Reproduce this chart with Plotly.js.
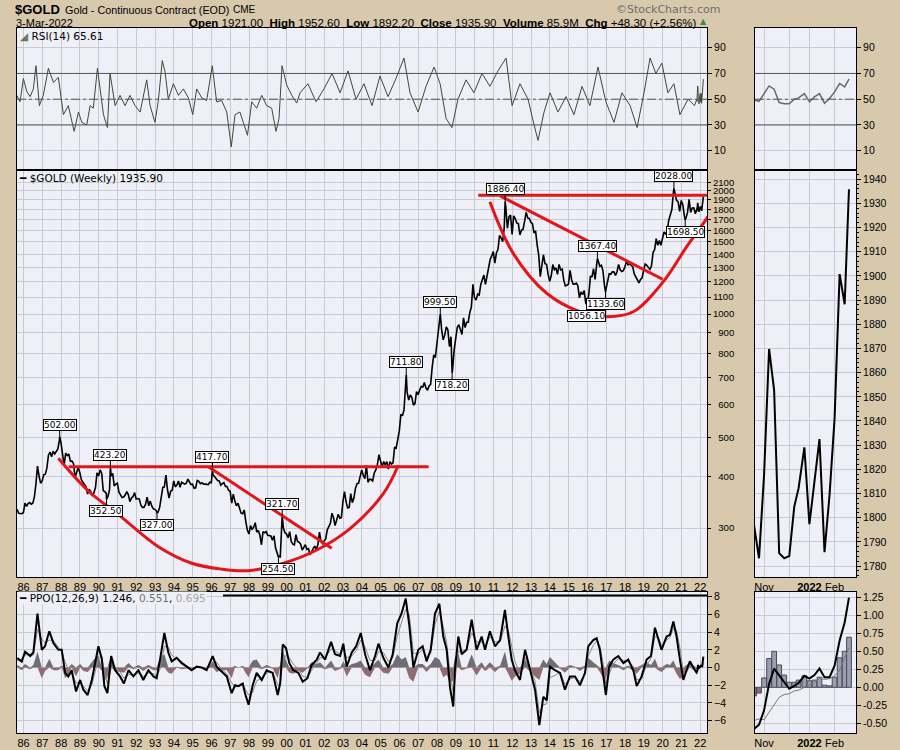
<!DOCTYPE html>
<html><head><meta charset="utf-8">
<script src="https://cdn.plot.ly/plotly-3.0.1.min.js"></script>
<style>html,body{margin:0;padding:0;background:#d8c8ac;}#chart{width:900px;height:750px;}</style>
</head><body><div id="chart"></div>
<script>
// ---------- DATA ----------
// Month-end closes, starting July 1985, ending Sep 2021
const priceStartYear = 1985, priceStartMonth = 7;
const priceMonthly = [
 327, 333, 326, 325, 325, 327,
 345, 339, 344, 346, 343, 345, 357, 384, 425, 402, 386, 391,
 405, 406, 420, 452, 460, 448, 462, 455, 460, 468, 492, 484,
 458, 427, 457, 451, 455, 437, 437, 431, 398, 412, 422, 410,
 394, 388, 383, 378, 363, 373, 368, 359, 366, 376, 409, 402,
 416, 408, 370, 368, 364, 358, 372, 402, 408, 380, 384, 386,
 367, 362, 356, 357, 361, 368, 362, 348, 355, 358, 366, 353,
 354, 353, 341, 337, 337, 343, 357, 340, 349, 339, 334, 333,
 330, 328, 337, 355, 377, 378, 404, 372, 355, 369, 371, 391,
 378, 382, 391, 377, 388, 386, 384, 386, 395, 389, 383, 384,
 375, 376, 392, 390, 385, 387, 384, 384, 384, 383, 388, 387,
 405, 401, 396, 392, 391, 382, 385, 387, 379, 379, 371, 369,
 345, 363, 349, 340, 345, 334, 326, 325, 332, 311, 296, 290,
 304, 298, 301, 309, 293, 296, 288, 273, 294, 292, 294, 288,
 288, 287, 280, 287, 268, 262, 256, 255, 300, 300, 292, 290,
 284, 294, 278, 274, 273, 289, 278, 277, 274, 265, 270, 273,
 266, 267, 258, 264, 267, 271, 266, 273, 293, 279, 275, 279,
 282, 297, 303, 308, 326, 318, 304, 312, 324, 317, 318, 348,
 368, 348, 336, 337, 364, 346, 355, 375, 385, 386, 398, 416,
 403, 396, 427, 388, 395, 394, 391, 409, 416, 429, 453, 438,
 423, 436, 428, 436, 418, 436, 430, 433, 473, 470, 495, 518,
 569, 564, 583, 654, 644, 616, 634, 626, 599, 604, 646, 635,
 652, 665, 663, 680, 660, 651, 667, 673, 743, 795, 783, 838,
 923, 975, 917, 865, 888, 930, 915, 833, 880, 730, 816, 884,
 927, 942, 917, 891, 979, 927, 955, 955, 1008, 1040, 1182, 1096,
 1082, 1118, 1113, 1180, 1212, 1245, 1181, 1248, 1307, 1359, 1387, 1421,
 1332, 1410, 1439, 1556, 1536, 1502, 1628, 1826, 1620, 1725, 1746, 1566,
 1738, 1711, 1669, 1664, 1560, 1604, 1610, 1687, 1772, 1717, 1712, 1676,
 1663, 1578, 1596, 1476, 1393, 1234, 1312, 1396, 1327, 1323, 1250, 1202,
 1240, 1321, 1284, 1296, 1250, 1322, 1282, 1287, 1210, 1171, 1175, 1184,
 1279, 1213, 1183, 1183, 1190, 1172, 1095, 1133, 1115, 1142, 1065, 1060,
 1118, 1234, 1234, 1290, 1215, 1321, 1350, 1309, 1316, 1277, 1173, 1152,
 1211, 1254, 1251, 1268, 1268, 1242, 1269, 1322, 1283, 1270, 1277, 1303,
 1345, 1318, 1325, 1316, 1305, 1253, 1233, 1206, 1192, 1215, 1226, 1282,
 1325, 1316, 1298, 1285, 1311, 1413, 1437, 1529, 1472, 1513, 1473, 1523,
 1587, 1566, 1596, 1694, 1751, 1800, 1986, 1978, 1896, 1880, 1781, 1895,
 1850, 1734, 1716, 1769, 1906, 1771, 1817, 1818, 1757
];

// Labelled swing points
const swingYears  = [1987.92, 1990.41, 1990.62, 1993.10, 1996.05, 1999.56, 1999.76, 2006.36, 2008.17, 2008.80, 2011.62, 2015.96, 2016.53, 2016.96, 2020.60, 2021.20];
const swingValues = [502.00, 352.50, 423.20, 327.00, 417.70, 254.50, 321.70, 711.80, 999.50, 718.20, 1886.40, 1056.10, 1367.40, 1133.60, 2028.00, 1698.50];
const swingLabels = ['502.00','352.50','423.20','327.00','417.70','254.50','321.70','711.80','999.50','718.20','1886.40','1056.10','1367.40','1133.60','2028.00','1698.50'];
const swingSide   = ['up','down','up','down','up','down','up','up','up','down','up','down','up','down','up','down'];

// Weekly detail (right-hand panels)
const weekDates = ['2021-10-22','2021-10-29','2021-11-05','2021-11-12','2021-11-19','2021-11-26','2021-12-03','2021-12-10','2021-12-17','2021-12-23','2021-12-31','2022-01-07','2022-01-14','2022-01-21','2022-01-28','2022-02-04','2022-02-11','2022-02-18','2022-02-25','2022-03-03'];
const weekClose = [1797, 1783.2, 1817.7, 1869.8, 1852.8, 1785.3, 1783.2, 1784.1, 1804.6, 1812.2, 1829.1, 1797.3, 1814.9, 1832.5, 1785.7, 1809.4, 1841.1, 1900.8, 1888.3, 1935.9];
const weekRSI   = [49.5, 48.4, 54.4, 60.3, 57.8, 47.4, 46.4, 46.4, 50.0, 51.0, 54.4, 47.9, 51.8, 54.4, 46.9, 50.5, 55.7, 62.2, 59.6, 65.61];
const weekPPO   = [-0.58, -0.52, -0.32, 0.05, 0.26, 0.17, 0.07, -0.02, 0.02, 0.06, 0.16, 0.12, 0.17, 0.26, 0.14, 0.14, 0.30, 0.65, 0.90, 1.246];
const weekHist  = [-0.12, -0.08, 0.13, 0.40, 0.50, 0.31, 0.17, 0.07, 0.07, 0.10, 0.16, 0.09, 0.10, 0.14, 0.03, 0.02, 0.14, 0.41, 0.50, 0.695];

// RSI(14) weekly
const rsiYears = [1985.64,1985.81,1985.99,1986.17,1986.35,1986.52,1986.66,1986.84,1987.05,1987.32,1987.59,1987.85,1988.12,1988.38,1988.69,1988.92,1989.10,1989.36,1989.54,1989.71,1989.93,1990.07,1990.25,1990.46,1990.60,1990.87,1991.13,1991.40,1991.66,1991.93,1992.20,1992.55,1992.73,1992.99,1993.17,1993.38,1993.53,1993.70,1993.97,1994.24,1994.50,1994.77,1995.00,1995.21,1995.48,1995.74,1996.04,1996.27,1996.54,1996.81,1997.05,1997.25,1997.51,1997.69,1997.91,1998.14,1998.40,1998.67,1998.93,1999.20,1999.43,1999.59,1999.75,2000.00,2000.27,2000.53,
 2000.71,2001.13,2001.56,2001.98,2002.41,2002.84,2003.26,2003.69,2004.11,2004.54,2004.96,2005.39,2005.81,2006.24,2006.56,2006.99,2007.41,2007.84,2008.16,2008.48,2008.79,2009.11,2009.54,2009.96,2010.39,2010.81,2011.24,2011.67,2011.99,2012.41,2012.84,2013.16,2013.37,2013.69,2014.01,2014.43,2014.86,2015.28,2015.71,2016.13,2016.56,2016.98,2017.41,2017.84,2018.27,2018.64,2019.01,2019.33,2019.64,2019.96,2020.28,2020.60,2020.92,2021.35,2021.70];
const rsiValues = [53,48,66,56,52,58,76,45,53,74,63,67,38,45,25,40,32,30,45,43,74,58,38,28,70,45,53,45,53,45,40,65,45,32,49,80,71,50,62,53,58,51,38,58,51,49,76,48,49,40,13,38,40,32,22,48,43,53,45,43,25,35,76,61,53,47,
 55,62,48,58,70,55,72,50,62,45,68,52,66,82,55,40,60,75,62,35,28,50,65,55,70,60,72,82,45,62,50,30,18,40,55,40,52,38,60,45,75,48,32,55,45,28,55,82,70,78,55,62,38,50,45];

// PPO(12,26,9) line and histogram
const ppoYears = [1985.66,1985.90,1986.08,1986.35,1986.52,1986.74,1986.97,1987.14,1987.37,1987.59,1987.85,1988.03,1988.21,1988.38,1988.56,1988.79,1989.01,1989.18,1989.41,1989.63,1989.77,1989.98,1990.16,1990.30,1990.46,1990.66,1990.87,1991.13,1991.34,1991.58,1991.84,1992.11,1992.37,1992.64,1992.91,1993.08,1993.26,1993.49,1993.70,1993.88,1994.15,1994.41,1994.68,1994.94,1995.21,1995.48,1995.74,1996.06,1996.27,1996.54,1996.81,1997.07,1997.25,1997.43,1997.66,1997.78,1997.97,1998.19,1998.40,1998.67,1998.93,1999.25,1999.52,1999.65,1999.79,1999.96,2000.14,2000.35,2000.62,2000.85,2001.10,2001.33,2001.60,2001.77,2002.04,2002.36,2002.57,2002.84,2003.01,2003.19,2003.46,2003.69,2003.94,2004.17,2004.43,2004.70,2004.88,2005.14,2005.41,2005.64,2005.88,2006.11,2006.33,2006.52,2006.74,2007.00,2007.23,2007.44,2007.66,2007.89,2008.12,2008.33,2008.51,2008.69,2008.86,2008.95,2009.13,2009.31,2009.57,2009.84,2010.10,2010.37,2010.55,2010.81,2011.08,2011.35,2011.61,2011.79,2011.97,2012.14,2012.41,2012.68,2012.94,2013.21,2013.44,2013.65,2013.83,2014.00,2014.27,2014.54,2014.80,2015.07,2015.34,2015.60,2015.87,2016.04,2016.31,2016.49,2016.66,2016.88,2016.98,2017.16,2017.37,2017.64,2017.91,2018.17,2018.44,2018.62,2018.88,2019.15,2019.38,2019.59,2019.77,2019.94,2020.21,2020.39,2020.57,2020.74,2020.92,2021.10,2021.27,2021.45,2021.72];
const ppoValues = [1.06,0.68,1.8,1.3,1.7,6.1,2.0,2.4,4.1,2.75,2.0,2.0,-0.6,-1.0,-0.3,-2.7,-1.4,-2.5,-3.1,-1.4,0.1,2.4,1.0,-2.1,-2.9,1.3,-0.3,-1.0,-1.8,-0.3,-1.0,-0.3,-1.4,-0.3,-1.0,-1.2,0.9,3.9,1.7,0.7,1.1,0.5,0.1,-0.3,0.1,0.0,-0.3,1.3,0.1,-0.5,-1.0,-2.9,-2.0,-2.1,-1.8,-2.9,-4.2,-2.0,-0.6,-1.4,-0.3,-0.6,-3.1,-1.8,2.6,2.2,0.5,-0.3,-0.6,-1.6,-1.2,0.3,0.9,1.7,0.9,2.9,1.5,1.3,2.7,0.1,1.7,2.4,3.9,1.5,-0.3,1.3,2.7,1.1,0.0,1.5,5.0,6.1,7.8,4.8,0.0,2.0,2.4,0.7,2.0,6.1,7.2,3.5,2.0,-2.3,-4.4,-0.3,3.5,1.5,2.0,5.4,2.0,3.5,2.0,4.1,2.4,3.1,6.5,3.5,0.9,-0.3,-1.4,2.0,-0.3,-2.5,-6.5,-3.3,-3.7,0.1,-0.3,-0.6,-2.5,-1.0,-1.0,-2.0,-0.6,2.4,3.1,3.3,2.0,-1.4,-3.1,0.1,0.9,1.3,0.5,0.9,-0.3,-2.1,-1.0,0.9,1.3,4.5,3.1,2.0,3.5,3.7,5.2,3.5,0.9,-1.4,-0.3,0.7,-0.3];
const ppoHist   = [0.3,-0.3,0.4,-0.2,0.3,1.8,-1.2,-0.4,1.0,-0.3,-0.3,0.2,-1.2,-0.8,0.4,-1.0,0.4,-0.4,-0.5,0.6,1.0,1.4,-0.3,-1.5,-1.1,1.4,-0.4,-0.5,-0.6,0.5,-0.2,0.3,-0.4,0.3,-0.3,-0.3,1.1,1.5,-0.6,-0.7,0.1,-0.2,-0.1,-0.2,0.1,0.0,-0.1,0.7,-0.5,-0.3,-0.3,-1.2,0.2,0.0,0.2,-0.5,-1.1,0.8,0.9,-0.2,0.3,-0.1,-1.2,0.2,2.0,0.8,-0.6,-0.7,-0.4,-0.6,-0.1,0.6,0.4,0.6,-0.2,0.8,-0.4,-0.2,0.7,-1.0,0.4,0.5,0.8,-0.8,-1.1,0.5,0.9,-0.6,-0.7,0.4,1.5,0.9,1.2,-1.2,-1.6,0.4,0.4,-0.5,0.4,1.2,0.9,-1.1,-0.8,-1.7,-1.5,1.2,1.6,-0.3,-0.1,1.5,-0.9,0.6,-0.4,0.6,-0.5,0.2,1.8,-0.7,-1.5,-1.0,-0.7,0.9,-0.4,-1.0,-1.4,0.9,0.4,1.2,0.6,-0.1,-0.6,0.3,0.1,-0.4,0.2,1.1,0.6,0.3,-0.5,-1.3,-1.2,0.8,0.5,0.3,-0.3,0.2,-0.4,-0.7,0.3,0.6,0.3,1.0,-0.3,-0.5,0.4,0.3,0.8,-0.7,-1.3,-1.0,0.3,0.5,-0.4];

// Hand-drawn red pattern lines
const cupLeftRimYears = [1988.40, 2007.55], cupLeftRimVals = [423.2, 423.2];
const cupLeftArcYears = [1987.85, 1989.43, 1991.03, 1993.17, 1994.95, 1996.54, 1997.96, 1999.82, 2001.60, 2003.37, 2005.14, 2005.94];
const cupLeftArcVals  = [444, 370, 324, 270, 246, 238, 236, 246, 265, 299, 364, 427];
const cupLeftTrendYears = [1995.83, 2002.39], cupLeftTrendVals = [423.3, 267.6];
const cupRightRimYears = [2010.19, 2023.3], cupRightRimVals = [1950, 1950];
const cupRightTrendYears = [2011.35, 2020.0], cupRightTrendVals = [1944, 1216];
const cupRightArcYears = [2010.81, 2012.05, 2013.83, 2015.60, 2017.02, 2018.44, 2020.03, 2021.28, 2022.52, 2022.94];
const cupRightArcVals  = [1882, 1407, 1124, 1013, 985, 1013, 1199, 1461, 1763, 1933];

// Axis ticks
const yearTicks = []; const yearLabels = [];
for (let y = 1986; y <= 2022; y++) { yearTicks.push(y); yearLabels.push(String(y).slice(2)); }
const priceTicks = [300,400,500,600,700,800,900,1000,1100,1200,1300,1400,1500,1600,1700,1800,1900,2000,2100];
const rsiTicks = [10,30,50,70,90];
const ppoTicks = [-6,-4,-2,0,2,4,6,8];
const zPriceTicks = [1780,1790,1800,1810,1820,1830,1840,1850,1860,1870,1880,1890,1900,1910,1920,1930,1940];
const zPpoTicks = [-0.5,-0.25,0,0.25,0.5,0.75,1.0,1.25];
const zDateTicks = ['2021-11-05','2021-12-10','2022-01-07','2022-02-11'];
const zDateLabels = ['Nov','','<b>2022</b>','Feb'];

// ---------- BUILD ----------
function decYear(s){ const d = Date.parse(s+'T00:00:00Z'); const y = new Date(d).getUTCFullYear();
  const a = Date.UTC(y,0,1), b = Date.UTC(y+1,0,1); return y + (d-a)/(b-a); }
const weekYears = weekDates.map(decYear);

let pts = priceMonthly.map((v,i)=>[priceStartYear + (priceStartMonth + i)/12 - 0.01, v]);
swingYears.forEach((t,i)=>pts.push([t, swingValues[i]]));
weekYears.forEach((t,i)=>pts.push([t, weekClose[i]]));
pts.sort((a,b)=>a[0]-b[0]);
const px = pts.map(p=>p[0]), pv = pts.map(p=>p[1]);

const rsiX = rsiYears.concat(weekYears), rsiY = rsiValues.concat(weekRSI);
const ppoX = ppoYears.concat(weekYears), ppoY = ppoValues.concat(weekPPO);
const histY = ppoHist.concat(weekHist);
const sigY = ppoY.map((v,i)=>v - histY[i]);
const histPos = histY.map(h=>Math.max(h,0)), histNeg = histY.map(h=>Math.min(h,0));
const zSig = weekPPO.map((v,i)=>v - weekHist[i]);

const RED = '#e5141b';
const traces = [
  {x:px, y:pv, xaxis:'x', yaxis:'y', mode:'lines', line:{color:'#000', width:1.6}},
  {x:cupLeftRimYears, y:cupLeftRimVals, xaxis:'x', yaxis:'y', mode:'lines', line:{color:RED, width:3}},
  {x:cupLeftArcYears, y:cupLeftArcVals, xaxis:'x', yaxis:'y', mode:'lines', line:{color:RED, width:3, shape:'spline', smoothing:1}},
  {x:cupLeftTrendYears, y:cupLeftTrendVals, xaxis:'x', yaxis:'y', mode:'lines', line:{color:RED, width:3}},
  {x:cupRightRimYears, y:cupRightRimVals, xaxis:'x', yaxis:'y', mode:'lines', line:{color:RED, width:3}},
  {x:cupRightTrendYears, y:cupRightTrendVals, xaxis:'x', yaxis:'y', mode:'lines', line:{color:RED, width:3}},
  {x:cupRightArcYears, y:cupRightArcVals, xaxis:'x', yaxis:'y', mode:'lines', line:{color:RED, width:3, shape:'spline', smoothing:1}},
  {x:rsiX, y:rsiY, xaxis:'x2', yaxis:'y2', mode:'lines', line:{color:'#3b4a37', width:1}},
  {x:ppoX, y:histPos, xaxis:'x3', yaxis:'y3', mode:'lines', line:{width:0}, fill:'tozeroy', fillcolor:'#6e6e74'},
  {x:ppoX, y:histNeg, xaxis:'x3', yaxis:'y3', mode:'lines', line:{width:0}, fill:'tozeroy', fillcolor:'#8d6d72'},
  {x:ppoX, y:sigY, xaxis:'x3', yaxis:'y3', mode:'lines', line:{color:'#8a8a8a', width:1}},
  {x:ppoX, y:ppoY, xaxis:'x3', yaxis:'y3', mode:'lines', line:{color:'#000', width:2}},
  {x:weekDates, y:weekClose, xaxis:'x4', yaxis:'y4', mode:'lines', line:{color:'#000', width:2}},
  {x:weekDates, y:weekRSI, xaxis:'x5', yaxis:'y5', mode:'lines', line:{color:'#6a6a6a', width:1.5}},
  {x:weekDates, y:weekHist, xaxis:'x6', yaxis:'y6', type:'bar', width:6.6*86400000,
    marker:{color:weekHist.map(h=>h<0?'#8d6d72':'#9c9db0'), line:{color:'#4a4a58', width:1}}},
  {x:weekDates, y:zSig, xaxis:'x6', yaxis:'y6', mode:'lines', line:{color:'#777', width:1}},
  {x:weekDates, y:weekPPO, xaxis:'x6', yaxis:'y6', mode:'lines', line:{color:'#000', width:2}}
];

const P = (x)=>x/900, Q = (y)=>1 - y/750;
const GRID = '#c8cad3';
const tf = {family:'Liberation Sans, Arial, sans-serif', size:10.5, color:'#000'};
const baseAx = {showgrid:true, gridcolor:GRID, gridwidth:1, zeroline:false, showline:true, mirror:true, linecolor:'#000', linewidth:1, tickfont:tf, fixedrange:true};
const mainX = Object.assign({}, baseAx, {domain:[P(17),P(707)], range:[1985.65,2022.36], tickmode:'array', tickvals:yearTicks, ticktext:yearLabels, ticks:'', tickfont:Object.assign({},tf,{size:11})});
const zX = Object.assign({}, baseAx, {domain:[P(755),P(856)], type:'date', range:['2021-10-23 10:00','2022-03-12 18:00'], tickmode:'array', tickvals:zDateTicks, ticktext:zDateLabels, ticks:'', tickfont:Object.assign({},tf,{size:11})});
const rY = (o)=>Object.assign({}, baseAx, {side:'right', ticks:'outside', ticklen:4, tickcolor:'#000'}, o);

const layout = {
  width:900, height:750, margin:{l:0,r:0,t:0,b:0}, paper_bgcolor:'#d8c8ac', plot_bgcolor:'#eff0f7',
  showlegend:false, font:{family:'Liberation Sans, Arial, sans-serif', size:11, color:'#000'}, bargap:0,
  xaxis: Object.assign({}, mainX, {anchor:'y'}),
  yaxis: rY({domain:[Q(577),Q(170)], type:'log', range:[Math.log10(227.7), Math.log10(2249)], tickmode:'array', tickvals:priceTicks, ticktext:priceTicks.map(v=>(v<1000?'\u2007':'')+v), ticklen:3, tickfont:Object.assign({},tf,{size:9.6}), anchor:'x'}),
  xaxis2: Object.assign({}, mainX, {anchor:'y2', matches:'x', showticklabels:false}),
  yaxis2: rY({domain:[Q(169),Q(28)], range:[-4.2,105.3], tickmode:'array', tickvals:rsiTicks, anchor:'x2'}),
  xaxis3: Object.assign({}, mainX, {anchor:'y3', matches:'x'}),
  yaxis3: rY({domain:[Q(733),Q(592)], range:[-7.39,8.53], tickmode:'array', tickvals:ppoTicks, anchor:'x3'}),
  xaxis4: Object.assign({}, zX, {anchor:'y4'}),
  yaxis4: rY({domain:[Q(577),Q(170)], range:[1775.45,1943.85], tickmode:'array', tickvals:zPriceTicks, anchor:'x4', minor:{ticks:'outside', ticklen:2, dtick:2, tickcolor:'#000', showgrid:false}}),
  xaxis5: Object.assign({}, zX, {anchor:'y5', matches:'x4', showticklabels:false}),
  yaxis5: rY({domain:[Q(169),Q(28)], range:[-4.2,105.3], tickmode:'array', tickvals:rsiTicks, anchor:'x5'}),
  xaxis6: Object.assign({}, zX, {anchor:'y6', matches:'x4'}),
  yaxis6: rY({domain:[Q(733),Q(592)], range:[-0.6347,1.3236], tickmode:'array', tickvals:zPpoTicks, ticktext:zPpoTicks.map(v=>v.toFixed(2)), anchor:'x6'}),
  shapes: [],
  annotations: []
};

// RSI guide lines
[['x2','y2'],['x5','y5']].forEach(([xa,ya])=>{
  [70,30].forEach(v=>layout.shapes.push({type:'line', xref:xa+' domain', x0:0, x1:1, yref:ya, y0:v, y1:v, line:{color:'#555', width:1}}));
  layout.shapes.push({type:'line', xref:xa+' domain', x0:0, x1:1, yref:ya, y0:50, y1:50, line:{color:'#555', width:1, dash:'dashdot'}});
});
// heavier panel top rules
layout.shapes.push({type:'line', xref:'paper', yref:'paper', x0:P(17), x1:P(707), y0:Q(170), y1:Q(170), line:{color:'#000', width:2}});
layout.shapes.push({type:'line', xref:'paper', yref:'paper', x0:P(755), x1:P(856), y0:Q(170), y1:Q(170), line:{color:'#000', width:2}});
layout.shapes.push({type:'line', xref:'paper', yref:'paper', x0:P(223), x1:P(707), y0:Q(595.5), y1:Q(595.5), line:{color:'#000', width:2}});

const A = layout.annotations;
const FAM = 'Liberation Sans, Arial, sans-serif';
const txt = (x,y,text,o)=>A.push(Object.assign({xref:'paper', yref:'paper', x:P(x), y:Q(y), text:text, showarrow:false, xanchor:'left', yanchor:'middle', borderpad:0, font:{family:FAM, size:11, color:'#000'}}, o||{}));
txt(14, 9, '<b>$GOLD</b>', {font:{family:FAM, size:13, color:'#000'}});
txt(64, 9.5, 'Gold - Continuous Contract (EOD)', {font:{family:FAM, size:10.8, color:'#000'}});
txt(232, 10, 'CME', {font:{family:FAM, size:10, color:'#000'}});
txt(15, 22.5, '3-Mar-2022', {font:{family:FAM, size:11, color:'#000'}});
txt(698, 22.5, '<b>Open</b> 1921.00  <b>High</b> 1952.60  <b>Low</b> 1892.20  <b>Close</b> 1935.90  <b>Volume</b> 85.9M  <b>Chg</b> +48.30 (+2.56%)', {xanchor:'right', font:{family:FAM, size:11.5, color:'#000'}});
txt(699, 22, '\u25B2', {font:{family:'DejaVu Sans, sans-serif', size:8, color:'#3c8f3c'}});
txt(615, 9, '\u00A9StockCharts.com', {font:{family:'DejaVu Sans, sans-serif', size:11, color:'#6e6e6e'}});

const lf = {family:'DejaVu Sans, sans-serif', size:10.5, color:'#000'};
txt(19, 35.5, '<span style="color:#6a7a66">\u25E2</span> RSI(14) 65.61', {font:lf});
txt(18, 177.5, '\u2501 $GOLD (Weekly) 1935.90', {font:lf});
txt(18, 598, '\u2501 PPO(12,26,9) 1.246, <span style="color:#707070">0.551</span>, <span style="color:#a6a6a6">0.695</span>', {font:lf, bgcolor:'#eff0f7'});

swingYears.forEach((t,i)=>{
  A.push({xref:'x', yref:'y', x:t, y:Math.log10(swingValues[i]), text:swingLabels[i], showarrow:true, arrowhead:0, arrowwidth:1, arrowcolor:'#000',
    ax:0, ay: swingSide[i]==='up' ? -12 : 12, standoff:0, bgcolor:'#ffffff', bordercolor:'#000', borderwidth:1, borderpad:0,
    font:{family:'DejaVu Sans, sans-serif', size:9, color:'#000'}});
});

Plotly.newPlot('chart', traces, layout, {staticPlot:true, displayModeBar:false});
</script></body></html>
